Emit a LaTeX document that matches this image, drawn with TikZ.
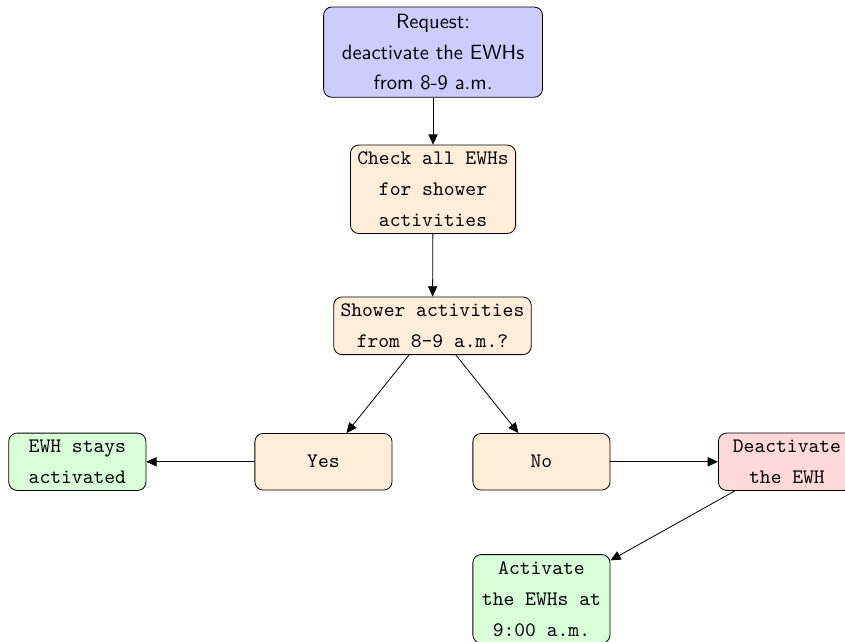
\documentclass[tikz,border=0pt]{standalone}
\usepackage{tikz}
\usetikzlibrary{arrows.meta}
\tikzset{
  flowbox/.style={draw, rounded corners=4pt, align=center, fill=orange!15,
    minimum width=2.34cm, minimum height=27.5pt, inner sep=3.33pt,
    font=\ttfamily\linespread{1.25}\selectfont},
  requestbox/.style={flowbox, fill=blue!20, text width=3.5cm,
    font=\sffamily\linespread{1.25}\selectfont},
  keepbox/.style={flowbox, fill=green!15},
  offbox/.style={flowbox, fill=red!15},
  flowarrow/.style={-{Triangle[length=5pt,width=4.5pt]}}
}

\begin{document}
\begin{tikzpicture}
  \useasboundingbox (0,0) rectangle (14.42,-10.94);
  \node[requestbox] (request) at (7.39,-0.89) {Request:\\ deactivate the EWHs\\ from 8-9 a.m.};
  \node[flowbox] (check) at (7.39,-3.23) {Check all EWHs\\ for shower\\ activities};
  \node[flowbox] (shower) at (7.38,-5.56) {Shower activities\\ from 8-9 a.m.?};
  \node[flowbox] (yes) at (5.52,-7.88) {Yes};
  \node[flowbox] (no) at (9.24,-7.88) {No};
  \node[keepbox] (stays) at (1.32,-7.88) {EWH stays\\ activated};
  \node[offbox] (deactivate) at (13.43,-7.88) {Deactivate\\ the EWH};
  \node[keepbox] (activate) at (9.24,-10.22) {Activate\\ the EWHs at\\ 9:00 a.m.};

  \draw[flowarrow] (request) -- (check);
  \draw[flowarrow] (check) -- (shower);
  \draw[flowarrow] (shower) -- (yes);
  \draw[flowarrow] (shower) -- (no);
  \draw[flowarrow] (yes) -- (stays);
  \draw[flowarrow] (no) -- (deactivate);
  \draw[flowarrow] (deactivate) -- (activate);
\end{tikzpicture}
\end{document}
